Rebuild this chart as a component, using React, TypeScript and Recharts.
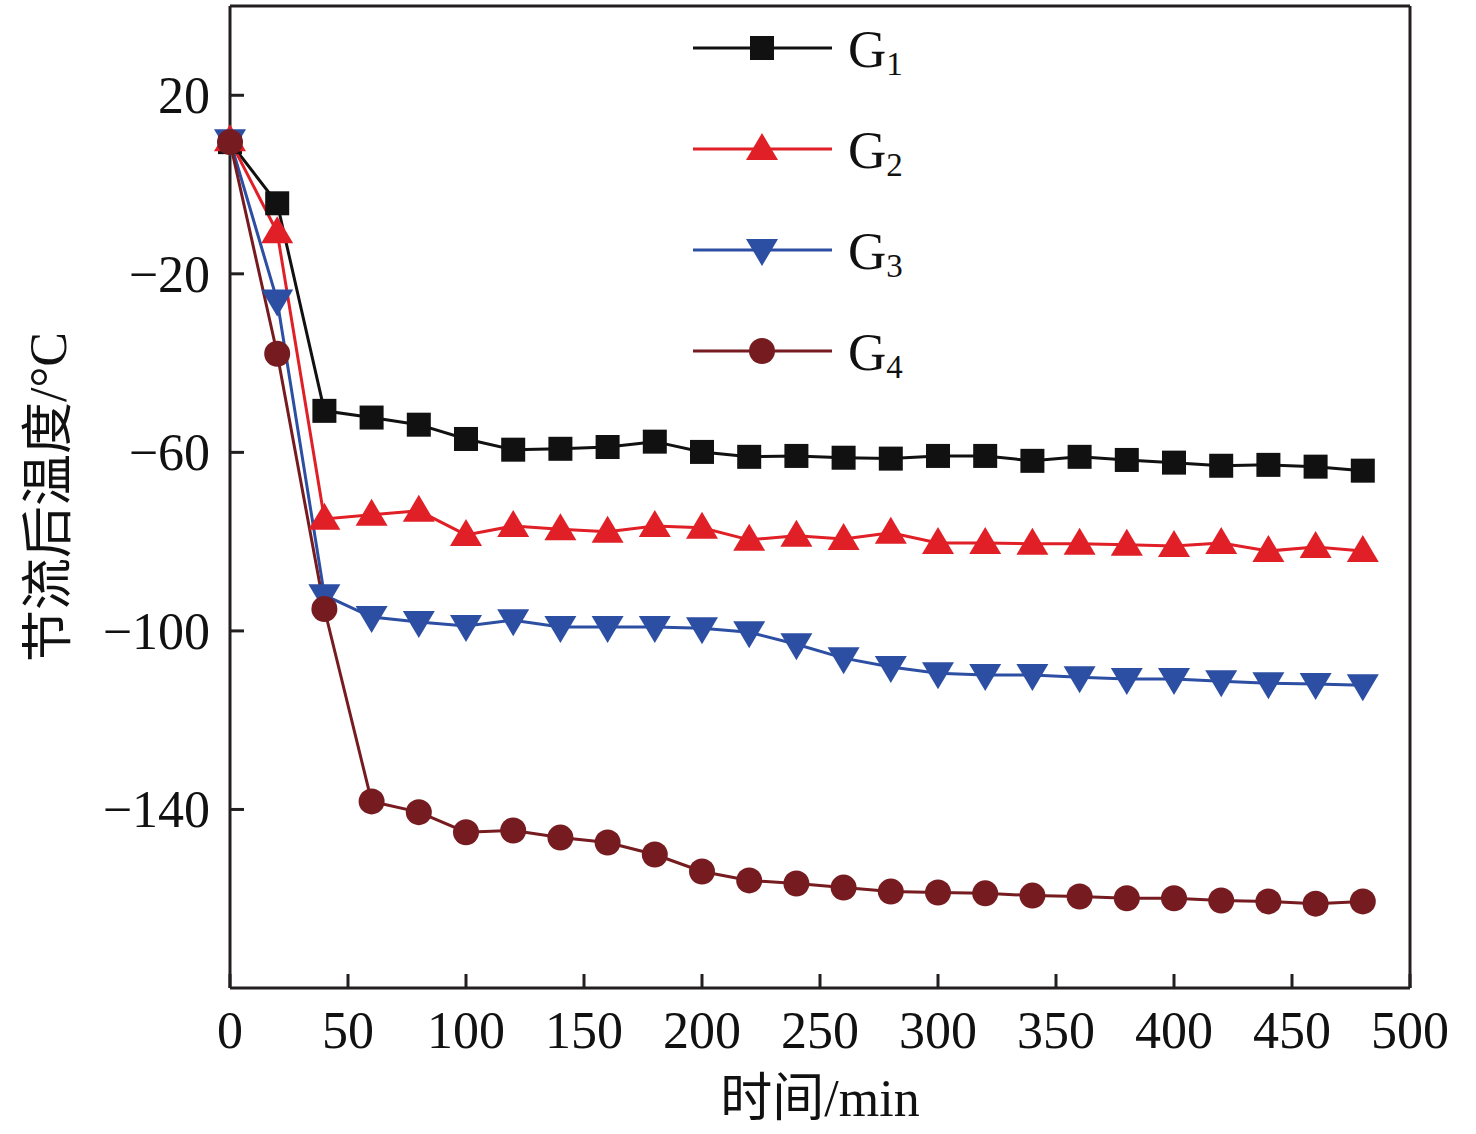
import React from 'react';
import { LineChart, Line, XAxis, YAxis, Legend, ReferenceLine } from 'recharts';

const times = [0, 20, 40, 60, 80, 100, 120, 140, 160, 180, 200, 220, 240, 260, 280, 300, 320, 340, 360, 380, 400, 420, 440, 460, 480];

const g1 = [9.5, -4.2, -50.7, -52.2, -53.8, -57.0, -59.4, -59.2, -58.8, -57.6, -59.9, -61.0, -60.8, -61.2, -61.4, -60.8, -60.8, -61.9, -61.0, -61.7, -62.3, -63.0, -62.8, -63.2, -64.1];
const g2 = [9.9, -10.7, -74.9, -74.0, -73.1, -78.5, -76.5, -77.2, -77.8, -76.5, -76.9, -79.6, -78.7, -79.4, -78.0, -80.3, -80.3, -80.5, -80.5, -80.7, -81.0, -80.3, -82.1, -81.2, -82.1];
const g3 = [9.9, -26.0, -92.0, -96.9, -98.0, -98.9, -97.6, -99.1, -99.1, -99.1, -99.4, -100.3, -103.0, -106.1, -108.1, -109.5, -109.9, -109.9, -110.4, -110.8, -110.8, -111.3, -111.7, -111.9, -112.2];
const g4 = [9.5, -37.9, -95.1, -138.2, -140.6, -145.1, -144.7, -146.3, -147.4, -150.1, -153.9, -155.9, -156.6, -157.5, -158.4, -158.6, -158.8, -159.3, -159.5, -159.9, -159.9, -160.4, -160.6, -161.1, -160.6];

const xTicks = [0, 50, 100, 150, 200, 250, 300, 350, 400, 450, 500];
const yTicks = [20, -20, -60, -100, -140];

const series = [
  { key: 'g1', sub: '1', color: '#111111', shape: 'square' },
  { key: 'g2', sub: '2', color: '#e01f26', shape: 'triangle' },
  { key: 'g3', sub: '3', color: '#2c4ea3', shape: 'triangleDown' },
  { key: 'g4', sub: '4', color: '#761b20', shape: 'circle' },
];

const data = times.map((t, i) => ({ t, g1: g1[i], g2: g2[i], g3: g3[i], g4: g4[i] }));

const FONT = '"Liberation Serif", "Noto Sans CJK SC", serif';
const AXIS = '#231f20';

function Marker({ shape, cx, cy, color }: { shape: string; cx: number; cy: number; color: string }) {
  if (cx == null || cy == null) return null;
  if (shape === 'square') return <rect x={cx - 12} y={cy - 12} width={24} height={24} fill={color} />;
  if (shape === 'triangle')
    return <polygon points={`${cx},${cy - 16} ${cx + 16},${cy + 11} ${cx - 16},${cy + 11}`} fill={color} />;
  if (shape === 'triangleDown')
    return <polygon points={`${cx},${cy + 16} ${cx + 16},${cy - 11} ${cx - 16},${cy - 11}`} fill={color} />;
  return <circle cx={cx} cy={cy} r={13} fill={color} />;
}

const XTick = (props: any) => {
  const { x, y, payload } = props;
  return (
    <g>
      <line x1={x} y1={y} x2={x} y2={y - 14} stroke={AXIS} strokeWidth={3} />
      <text x={x} y={y + 60} textAnchor="middle" fontSize={52} fontFamily={FONT} fill="#111">
        {payload.value}
      </text>
    </g>
  );
};

const YTick = (props: any) => {
  const { x, y, payload } = props;
  return (
    <g>
      <line x1={x} y1={y} x2={x + 14} y2={y} stroke={AXIS} strokeWidth={3} />
      <text x={x - 20} y={y + 18} textAnchor="end" fontSize={52} fontFamily={FONT} fill="#111">
        {String(payload.value).replace('-', '\u2212')}
      </text>
    </g>
  );
};

const LegendBox = () => (
  <svg width={260} height={400}>
    {series.map((s, i) => {
      const y = 48 + i * 101;
      return (
        <g key={s.key}>
          <line x1={13} y1={y} x2={152} y2={y} stroke={s.color} strokeWidth={3} />
          <Marker shape={s.shape} cx={82} cy={y} color={s.color} />
          <text x={168} y={y + 19} fontSize={53} fontFamily={FONT} fill="#111">
            G<tspan fontSize={33} dy={8}>{s.sub}</tspan>
          </text>
        </g>
      );
    })}
  </svg>
);

export default function App() {
  return (
    <div style={{ position: 'absolute', left: 0, top: 0, width: 1476, height: 1134, background: '#fff' }}>
      <LineChart width={1476} height={1134} data={data} margin={{ top: 6, right: 66, bottom: 0, left: 0 }}>
        <XAxis
          dataKey="t"
          type="number"
          domain={[0, 500]}
          ticks={xTicks}
          interval={0}
          height={146}
          tickSize={0}
          tickMargin={0}
          tick={<XTick />}
          axisLine={{ stroke: AXIS, strokeWidth: 3 }}
          label={{ value: '时间/min', position: 'insideBottom', offset: 18, fontSize: 52, fontFamily: FONT, fill: '#111' }}
        />
        <YAxis
          type="number"
          domain={[-180, 40]}
          ticks={yTicks}
          interval={0}
          width={230}
          tickSize={0}
          tickMargin={0}
          tick={<YTick />}
          axisLine={{ stroke: AXIS, strokeWidth: 3 }}
          label={{ value: '节流后温度/°C', angle: -90, position: 'insideLeft', offset: 48, fontSize: 52, fontFamily: FONT, fill: '#111', style: { textAnchor: 'middle' } }}
        />
        <ReferenceLine y={40} stroke={AXIS} strokeWidth={3} />
        <ReferenceLine x={500} stroke={AXIS} strokeWidth={3} />
        <Legend
          content={<LegendBox />}
          wrapperStyle={{ position: 'absolute', left: 680, top: 0, width: 260, height: 400 }}
          layout="vertical"
          align="center"
          verticalAlign="middle"
        />
        {series.map((s) => (
          <Line
            key={s.key}
            dataKey={s.key}
            type="linear"
            stroke={s.color}
            strokeWidth={3}
            isAnimationActive={false}
            activeDot={false}
            dot={(p: any) => <Marker key={`${s.key}-${p.index}`} shape={s.shape} cx={p.cx} cy={p.cy} color={s.color} />}
          />
        ))}
      </LineChart>
    </div>
  );
}
